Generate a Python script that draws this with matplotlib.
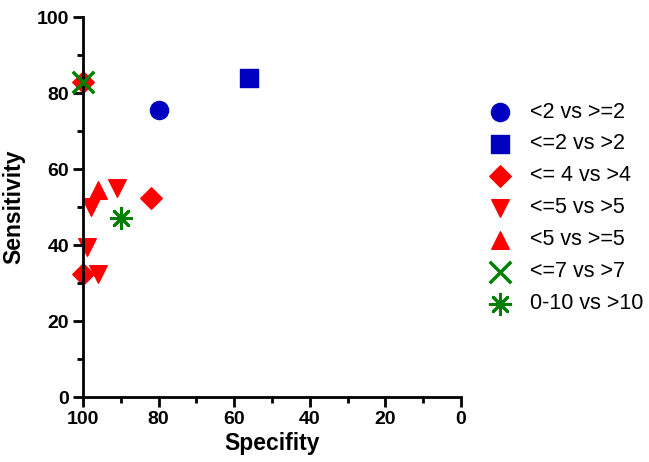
import matplotlib
matplotlib.use('Agg')
import matplotlib.pyplot as plt
from matplotlib.ticker import MultipleLocator

plt.rcParams['font.family'] = ['Liberation Sans', 'DejaVu Sans']

# specificity (x), sensitivity (y) per cut-off
lt2_x, lt2_y = [80], [75.5]
le2_x, le2_y = [56], [84]
le4_x, le4_y = [100, 82, 100], [83, 52.5, 32.5]
le5_x, le5_y = [98, 91, 99, 96], [50, 55, 39.5, 32.5]
lt5_x, lt5_y = [96], [54.5]
le7_x, le7_y = [100], [83]
r010_x, r010_y = [90], [47]

blue = '#0000C0'
red = '#FF0000'
green = '#008000'


def main():
    fig = plt.figure(figsize=(6.49, 4.62), dpi=100)
    ax = fig.add_axes([83 / 649, 1 - 397 / 462, (461 - 83) / 649, (397 - 17) / 462])

    ax.scatter(lt2_x, lt2_y, marker='o', s=170, color=blue, label='<2 vs >=2', clip_on=False)
    ax.scatter(le2_x, le2_y, marker='s', s=160, color=blue, label='<=2 vs >2', clip_on=False)
    ax.scatter(le4_x, le4_y, marker='D', s=120, color=red, label='<= 4 vs >4', clip_on=False)
    ax.scatter(le5_x, le5_y, marker='v', s=160, color=red, label='<=5 vs >5', clip_on=False)
    ax.scatter(lt5_x, lt5_y, marker='^', s=160, color=red, label='<5 vs >=5', clip_on=False)
    ax.scatter(le7_x, le7_y, marker='x', s=240, color=green, linewidths=2.5, label='<=7 vs >7',
               clip_on=False, zorder=3)
    ax.scatter(r010_x, r010_y, marker=(8, 2, 0), s=220, color=green, linewidths=2,
               label='0-10 vs >10', clip_on=False)

    ax.set_xlim(100, 0)
    ax.set_ylim(0, 100)
    ax.xaxis.set_major_locator(MultipleLocator(20))
    ax.xaxis.set_minor_locator(MultipleLocator(10))
    ax.yaxis.set_major_locator(MultipleLocator(20))
    ax.yaxis.set_minor_locator(MultipleLocator(10))
    for side in ['top', 'right']:
        ax.spines[side].set_visible(False)
    for side in ['left', 'bottom']:
        ax.spines[side].set_linewidth(2)
    ax.tick_params(which='major', width=2, length=7, labelsize=14, pad=3)
    ax.tick_params(which='minor', width=2, length=4)
    for lbl in ax.get_xticklabels() + ax.get_yticklabels():
        lbl.set_fontweight('bold')

    ax.set_xlabel('Specifity', fontsize=16.5, fontweight='bold', labelpad=3)
    ax.set_ylabel('Sensitivity', fontsize=16.5, fontweight='bold', labelpad=8)

    ax.legend(loc='center left', bbox_to_anchor=(1.04, 0.4975), frameon=False, fontsize=15.5,
              handlelength=1.4, handletextpad=0.7, labelspacing=0.51, scatterpoints=1,
              borderaxespad=0.0)

    fig.savefig('out.png', dpi=100)


if __name__ == "__main__":
    main()
